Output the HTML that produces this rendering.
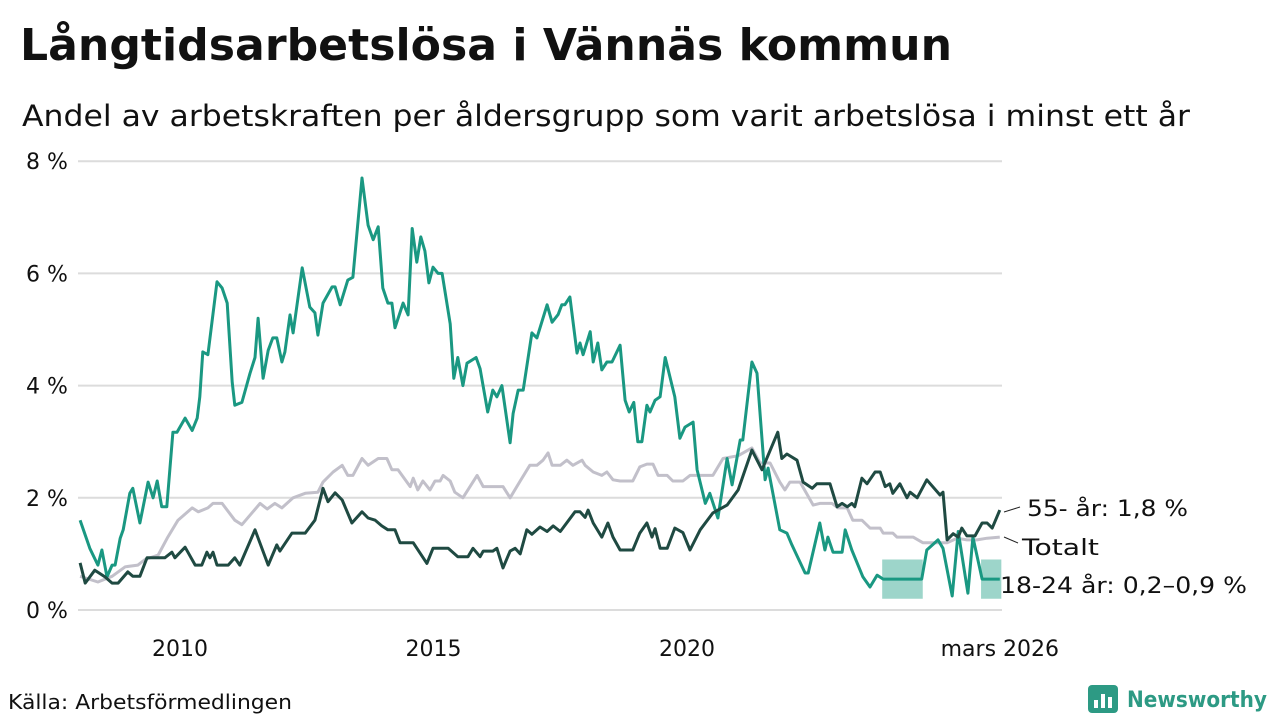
<!DOCTYPE html>
<html><head><meta charset="utf-8"><style>
html,body{margin:0;padding:0;background:#fff;}
svg{display:block;font-family:"DejaVu Sans","Liberation Sans",sans-serif;}
</style></head><body>
<svg id="chart" width="1280" height="720" viewBox="0 0 1280 720">
<text x="20" y="60" font-size="44" font-weight="bold" fill="#111" textLength="932" lengthAdjust="spacingAndGlyphs">Långtidsarbetslösa i Vännäs kommun</text>
<text x="22" y="126" font-size="29" fill="#111" textLength="1168" lengthAdjust="spacingAndGlyphs">Andel av arbetskraften per åldersgrupp som varit arbetslösa i minst ett år</text>
<g id="grid"></g>
<g id="yaxis"></g>
<g id="xaxis"></g>
<g id="series"></g>
<g>
<line x1="1004" y1="512" x2="1020" y2="507" stroke="#222" stroke-width="1"/>
<text x="1027" y="516" font-size="22" fill="#111" textLength="161" lengthAdjust="spacingAndGlyphs">55- år: 1,8 %</text>
<line x1="1004" y1="537" x2="1018" y2="543" stroke="#222" stroke-width="1"/>
<text x="1022" y="555" font-size="22" fill="#111" textLength="77" lengthAdjust="spacingAndGlyphs">Totalt</text>
<text x="1000" y="593" font-size="22" fill="#111" textLength="247" lengthAdjust="spacingAndGlyphs">18-24 år: 0,2–0,9 %</text>
</g>
<text x="8" y="709" font-size="20" fill="#111" textLength="284" lengthAdjust="spacingAndGlyphs">Källa: Arbetsförmedlingen</text>
<g>
<rect x="1088" y="685" width="30" height="28" rx="4" fill="#2d9a84"/>
<rect x="1094" y="700" width="4" height="8" fill="#fff"/><rect x="1101" y="694" width="4" height="14" fill="#fff"/><rect x="1108" y="697" width="4" height="11" fill="#fff"/>
<text x="1127" y="707" font-size="22" font-weight="bold" fill="#2d9a84" textLength="140" lengthAdjust="spacingAndGlyphs">Newsworthy</text>
</g>
</svg>
<script>
const yTicks=[0,2,4,6,8];
const yTickLabels=["0 %","2 %","4 %","6 %","8 %"];
const xTicks=[2010,2015,2020,2026.17];
const xTickLabels=["2010","2015","2020","mars 2026"];
const tealDates=[2008.03,2008.22,2008.38,2008.46,2008.56,2008.66,2008.72,2008.82,2008.88,2009.01,2009.07,2009.21,2009.37,2009.47,2009.55,2009.64,2009.74,2009.86,2009.94,2010.10,2010.24,2010.34,2010.39,2010.45,2010.55,2010.73,2010.83,2010.93,2011.03,2011.08,2011.22,2011.38,2011.48,2011.54,2011.64,2011.74,2011.83,2011.91,2012.01,2012.07,2012.17,2012.23,2012.41,2012.56,2012.66,2012.72,2012.82,2013.00,2013.06,2013.16,2013.31,2013.41,2013.59,2013.71,2013.81,2013.91,2014.00,2014.10,2014.18,2014.24,2014.40,2014.50,2014.58,2014.67,2014.75,2014.83,2014.91,2014.99,2015.09,2015.17,2015.33,2015.40,2015.48,2015.58,2015.66,2015.84,2015.92,2016.07,2016.17,2016.25,2016.35,2016.51,2016.57,2016.67,2016.77,2016.94,2017.04,2017.24,2017.34,2017.46,2017.53,2017.59,2017.69,2017.83,2017.89,2017.95,2018.09,2018.15,2018.24,2018.32,2018.42,2018.52,2018.68,2018.78,2018.86,2018.95,2019.03,2019.11,2019.21,2019.27,2019.37,2019.47,2019.57,2019.76,2019.86,2019.96,2020.12,2020.20,2020.36,2020.45,2020.61,2020.79,2020.89,2021.05,2021.10,2021.28,2021.38,2021.54,2021.60,2021.83,2021.97,2022.07,2022.33,2022.39,2022.62,2022.72,2022.78,2022.88,2023.06,2023.12,2023.25,2023.47,2023.61,2023.75,2023.87,2024.63,2024.73,2024.95,2025.05,2025.23,2025.35,2025.54,2025.64,2025.82,2026.17];
const tealValues=[1.6,1.1,0.8,1.07,0.59,0.8,0.8,1.28,1.43,2.08,2.17,1.55,2.28,2.0,2.3,1.84,1.84,3.17,3.17,3.42,3.2,3.42,3.8,4.6,4.55,5.85,5.74,5.47,4.06,3.65,3.7,4.22,4.5,5.2,4.13,4.63,4.85,4.85,4.42,4.6,5.26,4.94,6.1,5.4,5.3,4.9,5.47,5.76,5.76,5.44,5.88,5.93,7.7,6.86,6.6,6.83,5.74,5.47,5.47,5.03,5.47,5.26,6.8,6.2,6.65,6.4,5.83,6.11,6.0,6.0,5.1,4.13,4.5,4.0,4.4,4.5,4.3,3.53,3.92,3.8,4.0,2.98,3.5,3.92,3.92,4.94,4.85,5.44,5.13,5.27,5.44,5.44,5.58,4.58,4.76,4.55,4.96,4.42,4.76,4.28,4.42,4.42,4.72,3.74,3.53,3.7,3.0,3.0,3.65,3.53,3.74,3.8,4.5,3.8,3.06,3.26,3.35,2.5,1.9,2.08,1.64,2.7,2.23,3.03,3.03,4.42,4.22,2.32,2.53,1.43,1.37,1.16,0.66,0.66,1.55,1.07,1.3,1.03,1.03,1.43,1.07,0.59,0.41,0.62,0.55,0.55,1.07,1.25,1.1,0.25,1.4,0.3,1.3,0.55,0.55];
const bandStarts=[2023.85,2025.80];
const bandEnds=[2024.65,2026.2];
const bandLow=[0.2,0.2];
const bandHigh=[0.9,0.9];
const darkDates=[2008.03,2008.13,2008.32,2008.52,2008.66,2008.78,2008.97,2009.07,2009.21,2009.35,2009.70,2009.84,2009.90,2010.10,2010.30,2010.43,2010.53,2010.59,2010.65,2010.73,2010.95,2011.08,2011.18,2011.48,2011.74,2011.91,2011.97,2012.21,2012.47,2012.66,2012.82,2012.92,2013.06,2013.20,2013.39,2013.59,2013.71,2013.85,2013.98,2014.10,2014.24,2014.34,2014.60,2014.87,2014.99,2015.29,2015.48,2015.68,2015.78,2015.92,2015.98,2016.17,2016.25,2016.37,2016.51,2016.61,2016.71,2016.84,2016.94,2017.10,2017.24,2017.36,2017.50,2017.79,2017.89,2017.99,2018.05,2018.15,2018.32,2018.44,2018.54,2018.68,2018.93,2019.07,2019.21,2019.31,2019.37,2019.47,2019.61,2019.76,2019.92,2020.06,2020.26,2020.51,2020.79,2021.01,2021.28,2021.48,2021.79,2021.87,2021.97,2022.17,2022.29,2022.47,2022.56,2022.82,2022.96,2023.06,2023.16,2023.25,2023.31,2023.45,2023.55,2023.71,2023.81,2023.91,2024.00,2024.06,2024.20,2024.34,2024.40,2024.54,2024.73,2024.99,2025.05,2025.13,2025.25,2025.35,2025.42,2025.52,2025.68,2025.82,2025.92,2026.02,2026.17];
const darkValues=[0.84,0.48,0.71,0.59,0.48,0.48,0.68,0.6,0.6,0.93,0.93,1.03,0.93,1.12,0.8,0.8,1.03,0.93,1.03,0.8,0.8,0.93,0.8,1.43,0.8,1.16,1.05,1.37,1.37,1.6,2.17,1.93,2.09,1.96,1.55,1.75,1.64,1.6,1.5,1.43,1.43,1.2,1.2,0.83,1.1,1.1,0.95,0.95,1.1,0.95,1.05,1.05,1.1,0.75,1.05,1.1,1.0,1.43,1.35,1.48,1.4,1.5,1.4,1.75,1.75,1.65,1.78,1.55,1.3,1.55,1.3,1.07,1.07,1.37,1.55,1.3,1.45,1.1,1.1,1.46,1.38,1.07,1.43,1.73,1.87,2.14,2.85,2.5,3.17,2.7,2.78,2.67,2.28,2.17,2.25,2.25,1.84,1.9,1.84,1.9,1.84,2.35,2.25,2.46,2.46,2.2,2.25,2.08,2.25,2.0,2.1,2.0,2.32,2.05,2.1,1.25,1.36,1.3,1.46,1.32,1.32,1.55,1.55,1.46,1.78];
const greyDates=[2008.03,2008.38,2008.66,2008.92,2009.17,2009.31,2009.57,2009.76,2009.96,2010.24,2010.36,2010.55,2010.65,2010.83,2011.08,2011.22,2011.58,2011.72,2011.87,2012.01,2012.23,2012.47,2012.72,2012.82,2013.02,2013.20,2013.31,2013.41,2013.59,2013.71,2013.91,2014.08,2014.18,2014.30,2014.54,2014.60,2014.69,2014.79,2014.93,2015.03,2015.13,2015.19,2015.33,2015.42,2015.58,2015.86,2015.98,2016.37,2016.51,2016.71,2016.90,2017.04,2017.16,2017.26,2017.34,2017.50,2017.63,2017.75,2017.93,2017.99,2018.15,2018.32,2018.42,2018.54,2018.68,2018.93,2019.07,2019.21,2019.33,2019.43,2019.61,2019.72,2019.92,2020.06,2020.26,2020.51,2020.71,2021.01,2021.28,2021.44,2021.64,2021.83,2021.93,2022.03,2022.23,2022.49,2022.62,2022.86,2022.98,2023.16,2023.27,2023.45,2023.61,2023.81,2023.87,2024.06,2024.14,2024.46,2024.65,2025.13,2025.33,2025.52,2025.72,2025.92,2026.17];
const greyValues=[0.6,0.5,0.6,0.77,0.8,0.9,0.98,1.3,1.6,1.82,1.75,1.82,1.9,1.9,1.6,1.52,1.9,1.8,1.9,1.82,2.0,2.08,2.1,2.28,2.46,2.58,2.4,2.4,2.7,2.58,2.7,2.7,2.5,2.5,2.2,2.35,2.14,2.3,2.14,2.3,2.3,2.4,2.3,2.1,2.0,2.4,2.2,2.2,2.0,2.3,2.58,2.58,2.67,2.8,2.58,2.58,2.67,2.58,2.67,2.58,2.46,2.4,2.46,2.32,2.3,2.3,2.55,2.6,2.6,2.4,2.4,2.3,2.3,2.4,2.4,2.4,2.7,2.75,2.89,2.62,2.62,2.28,2.14,2.28,2.28,1.87,1.9,1.9,1.82,1.82,1.6,1.6,1.46,1.46,1.37,1.37,1.3,1.3,1.2,1.2,1.28,1.25,1.25,1.28,1.3];

const NS='http://www.w3.org/2000/svg';
const X0=180, PXY=50.7, Y0=610, PXV=56.1;
function xs(t){return X0+(t-2010)*PXY;}
function ys(v){return Y0-v*PXV;}
function mk(tag,attrs,parent){const e=document.createElementNS(NS,tag);for(const k in attrs)e.setAttribute(k,attrs[k]);parent.appendChild(e);return e;}
const grid=document.getElementById('grid'),yax=document.getElementById('yaxis'),xax=document.getElementById('xaxis'),ser=document.getElementById('series');
yTicks.forEach((v,i)=>{
  const l=mk('line',{x1:78,x2:1002,y1:ys(v),y2:ys(v),stroke:'#dcdcdc','stroke-width':2},grid);
  
  
  const t=mk('text',{x:26,y:ys(v)+8,'font-size':22,fill:'#111'},yax);
  
  
  t.textContent=yTickLabels[i];
});
xTicks.forEach((v,i)=>{
  const t=mk('text',{x:xs(v),y:656,'font-size':22,fill:'#111','text-anchor':'middle'},xax);
  
  
  t.textContent=xTickLabels[i];
});
bandStarts.forEach((s,i)=>{
  const e=bandEnds[i];
  const p=mk('polygon',{points:`${xs(s)},${ys(bandHigh[i])} ${xs(e)},${ys(bandHigh[i])} ${xs(e)},${ys(bandLow[i])} ${xs(s)},${ys(bandLow[i])}`,fill:'#9dd5ca'},ser);
  
  
});
function line(d,v,color,name){
  const pts=d.map((t,i)=>xs(t).toFixed(1)+','+ys(v[i]).toFixed(1)).join(' ');
  const p=mk('polyline',{points:pts,fill:'none',stroke:color,'stroke-width':3,'stroke-linejoin':'round'},ser);
  
  
}
line(greyDates,greyValues,'#c2c0ca','line-totalt');
line(tealDates,tealValues,'#1a9882','line-18-24');
line(darkDates,darkValues,'#1f4a42','line-55');
</script>
</body></html>
